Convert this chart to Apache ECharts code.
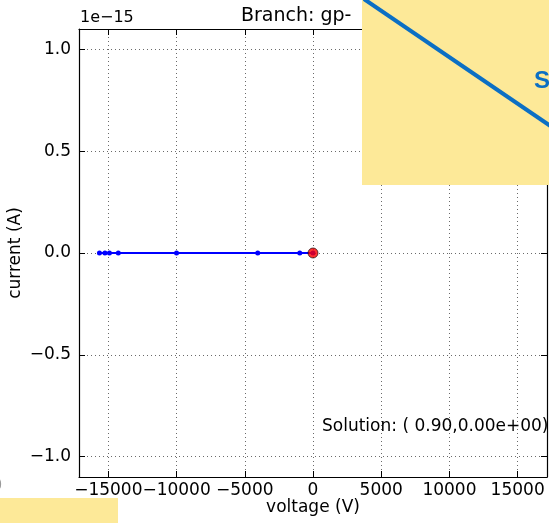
<!DOCTYPE html>
<html>
<head>
<meta charset="utf-8">
<script src="https://cdn.jsdelivr.net/npm/echarts@6/dist/echarts.min.js"></script>
<style>
html,body{margin:0;padding:0;background:#fff;}
#c{width:549px;height:523px;}
</style>
</head>
<body>
<div id="c"></div>
<script>
// ---- data (current in units of 1e-15 A) ----
var iterVoltage = [-15650, -15250, -14920, -14270, -10000, -4050, -970, 0];
var iterCurrent = [0, 0, 0, 0, 0, 0, 0, 0];
var solutionVoltage = [0];
var solutionCurrent = [0];
var xTicks = [-15000, -10000, -5000, 0, 5000, 10000, 15000];
var yTicks = [-1.0, -0.5, 0.0, 0.5, 1.0];
var titleText = 'Branch: gp-';
var offsetText = '1e\u221215';
var solutionText = 'Solution: ( 0.90,0.00e+00)';
var xName = 'voltage (V)';
var yName = 'current (A)';

var FONT = 'DejaVu Sans';
function fmtX(v){ var s = String(Math.round(v)); return s.replace('-', '\u2212'); }
function fmtY(v){ var s = Number(v).toFixed(1); return s.replace('-', '\u2212'); }

var chart = echarts.init(document.getElementById('c'), null, {renderer:'canvas'});
var gridLine = {show:true, lineStyle:{color:'#444', width:0.8, type:[1,3]}};
var tickStyle = {show:true, inside:true, length:6, lineStyle:{color:'#000', width:1}};
var xBase = {
  type:'value', min:-17150, max:17150,
  axisLine:{show:true, onZero:false, lineStyle:{color:'#000', width:1.2}},
  axisTick:Object.assign({customValues:xTicks}, tickStyle),
};
var yBase = {
  type:'value', min:-1.1, max:1.1,
  axisLine:{show:true, onZero:false, lineStyle:{color:'#000', width:1.2}},
  axisTick:Object.assign({customValues:yTicks}, tickStyle),
};
var option = {
  animation:false,
  backgroundColor:'#fff',
  grid:{left:79, right:2, top:29, bottom:46, containLabel:false},
  xAxis:[
    Object.assign({}, xBase, {position:'bottom', splitLine:gridLine,
      axisLabel:{customValues:xTicks, formatter:fmtX, color:'#000', fontFamily:FONT, fontSize:17, margin:5}}),
    Object.assign({}, xBase, {position:'top', splitLine:{show:false}, axisLabel:{show:false}})
  ],
  yAxis:[
    Object.assign({}, yBase, {position:'left', splitLine:gridLine,
      axisLabel:{customValues:yTicks, formatter:fmtY, color:'#000', fontFamily:FONT, fontSize:17, margin:8}}),
    Object.assign({}, yBase, {position:'right', splitLine:{show:false}, axisLabel:{show:false}})
  ],
  series:[
    {type:'line', xAxisIndex:0, yAxisIndex:0,
     data:iterVoltage.map(function(v,i){return [v, iterCurrent[i]];}),
     lineStyle:{color:'#0000ff', width:2}, itemStyle:{color:'#0000ff'},
     symbol:'circle', symbolSize:5, showSymbol:true, z:3},
    {type:'scatter', xAxisIndex:0, yAxisIndex:0,
     data:solutionVoltage.map(function(v,i){return [v, solutionCurrent[i]];}),
     symbol:'circle', symbolSize:10, itemStyle:{color:'#ff0000', borderColor:'#000', borderWidth:0.8}, z:4}
  ],
  graphic:[
    {type:'text', x:241, y:16, z:10, style:{text:titleText, fontFamily:FONT, fontSize:19, fill:'#000', align:'left', verticalAlign:'middle'}},
    {type:'text', x:80, y:18, z:10, style:{text:offsetText, fontFamily:FONT, fontSize:16, fill:'#000', align:'left', verticalAlign:'middle'}},
    {type:'text', x:322, y:427, z:10, style:{text:solutionText, fontFamily:FONT, fontSize:17, fill:'#000', align:'left', verticalAlign:'middle'}},
    {type:'text', x:313, y:508, z:10, style:{text:xName, fontFamily:FONT, fontSize:17, fill:'#000', align:'center', verticalAlign:'middle'}},
    {type:'text', x:16, y:253, rotation:Math.PI/2, z:10, style:{text:yName, fontFamily:FONT, fontSize:17, fill:'#000', align:'center', verticalAlign:'middle'}},
    {type:'text', x:-8, y:486, z:10, style:{text:'0', fontFamily:FONT, fontSize:16, fill:'#999', align:'left', verticalAlign:'middle'}},
    {type:'rect', z:20, shape:{x:362, y:0, width:187, height:185}, style:{fill:'#fde998'}},
    {type:'line', z:21, shape:{x1:364, y1:-1, x2:552, y2:127}, style:{stroke:'#0b6fc4', lineWidth:4}},
    {type:'text', z:21, x:534, y:81, style:{text:'S', fontFamily:'Liberation Sans', fontWeight:'bold', fontSize:24, fill:'#0b6fc4', align:'left', verticalAlign:'middle'}},
    {type:'rect', z:20, shape:{x:0, y:498, width:118, height:25}, style:{fill:'#fde998'}}
  ]
};
chart.setOption(option);
</script>
</body>
</html>
